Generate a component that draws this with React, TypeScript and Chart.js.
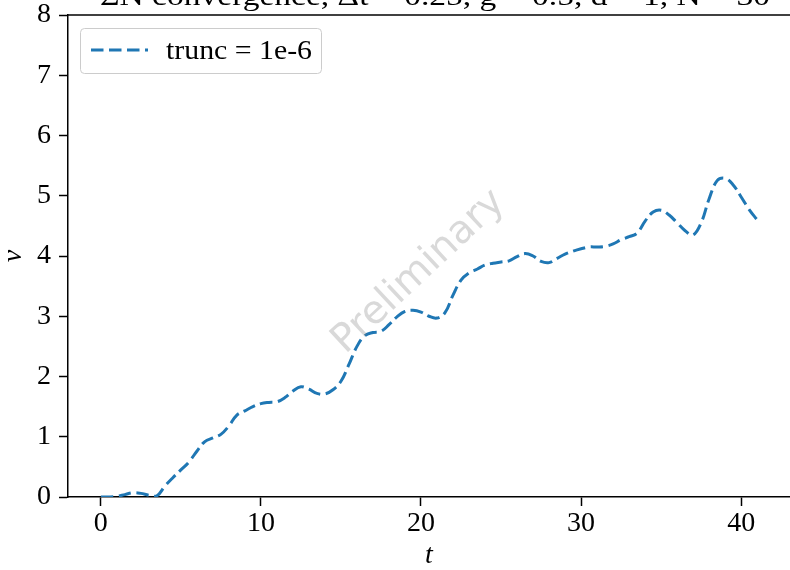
import React, { useEffect, useRef } from "react";
import { Chart, registerables } from "chart.js";
Chart.register(...registerables);

const tValues = [
  0, 0.5, 1, 1.5, 2, 2.5, 3, 3.5, 4, 4.5, 5, 5.5, 6, 6.5, 7, 7.5, 8, 8.5, 9, 9.5,
  10, 10.5, 11, 11.5, 12, 12.5, 13, 13.5, 14, 14.5, 15, 15.5, 16, 16.5, 17, 17.5,
  18, 18.5, 19, 19.5, 20, 20.5, 21, 21.5, 22, 22.5, 23, 23.5, 24, 24.5, 25, 25.5,
  26, 26.5, 27, 27.5, 28, 28.5, 29, 29.5, 30, 30.5, 31, 31.5, 32, 32.5, 33, 33.5,
  34, 34.5, 35, 35.5, 36, 36.5, 37, 37.5, 38, 38.5, 39, 39.5, 40, 40.5, 41,
];
const nuValues = [
  0, 0, 0.01, 0.04, 0.07, 0.06, 0.03, 0.02, 0.18, 0.32, 0.45, 0.58, 0.76, 0.92, 0.98, 1.04,
  1.18, 1.36, 1.43, 1.5, 1.55, 1.57, 1.58, 1.65, 1.76, 1.83, 1.79, 1.72, 1.71, 1.78, 1.92,
  2.2, 2.5, 2.68, 2.73, 2.75, 2.86, 2.99, 3.08, 3.1, 3.07, 3.0, 2.97, 3.06, 3.35, 3.6, 3.72,
  3.78, 3.85, 3.88, 3.9, 3.92, 3.99, 4.04, 4.0, 3.91, 3.89, 3.96, 4.03, 4.08, 4.12, 4.15,
  4.15, 4.16, 4.2, 4.27, 4.32, 4.38, 4.58, 4.73, 4.76, 4.68, 4.55, 4.42, 4.35, 4.55, 4.95,
  5.25, 5.29, 5.18, 4.98, 4.77, 4.6,
];
const xTicks = [0, 10, 20, 30, 40];
const yTicks = [0, 1, 2, 3, 4, 5, 6, 7, 8];
const seriesLabel = "trunc = 1e-6";
const titleText = "ΣN convergence, Δt = 0.25, g = 0.5, d = 1, N = 30";
const watermarkText = "Preliminary";
const xLabel = "t";
const yLabel = "ν";

const SERIF = "'Liberation Serif', 'DejaVu Serif', serif";
const LINE_COLOR = "#1f77b4";
const DASH = [12.5, 5.5];

function fitText(ctx: CanvasRenderingContext2D, text: string, x: number, y: number, width: number) {
  const w = ctx.measureText(text).width;
  ctx.save();
  ctx.translate(x, y);
  ctx.scale(width / w, 1);
  ctx.textAlign = "left";
  ctx.fillText(text, 0, 0);
  ctx.restore();
}

const overlayPlugin = {
  id: "overlay",
  afterDraw(chart: any) {
    const ctx = chart.ctx as CanvasRenderingContext2D;
    const a = chart.chartArea;
    ctx.save();
    // top spine
    ctx.strokeStyle = "#000";
    ctx.lineWidth = 1.5;
    ctx.beginPath();
    ctx.moveTo(a.left, a.top);
    ctx.lineTo(a.right + 2, a.top);
    ctx.stroke();

    // title (partially cut off at top)
    ctx.fillStyle = "#000";
    ctx.font = `28px ${SERIF}`;
    ctx.textBaseline = "alphabetic";
    fitText(ctx, titleText, 100, 5, 670);

    // watermark
    ctx.save();
    ctx.translate(419, 272);
    ctx.rotate((-43 * Math.PI) / 180);
    ctx.font = `39px 'DejaVu Sans', sans-serif`;
    ctx.fillStyle = "rgba(128,128,128,0.3)";
    ctx.textAlign = "center";
    ctx.textBaseline = "middle";
    ctx.fillText(watermarkText, 0, 0);
    ctx.restore();

    // legend
    const bx = 80.5, by = 28.5, bw = 241, bh = 45, r = 4;
    ctx.beginPath();
    ctx.moveTo(bx + r, by);
    ctx.lineTo(bx + bw - r, by);
    ctx.arcTo(bx + bw, by, bx + bw, by + r, r);
    ctx.lineTo(bx + bw, by + bh - r);
    ctx.arcTo(bx + bw, by + bh, bx + bw - r, by + bh, r);
    ctx.lineTo(bx + r, by + bh);
    ctx.arcTo(bx, by + bh, bx, by + bh - r, r);
    ctx.lineTo(bx, by + r);
    ctx.arcTo(bx, by, bx + r, by, r);
    ctx.closePath();
    ctx.fillStyle = "rgba(255,255,255,0.8)";
    ctx.fill();
    ctx.strokeStyle = "#cccccc";
    ctx.lineWidth = 1;
    ctx.stroke();

    ctx.strokeStyle = LINE_COLOR;
    ctx.lineWidth = 3;
    ctx.setLineDash(DASH);
    ctx.beginPath();
    ctx.moveTo(91, 50);
    ctx.lineTo(148, 50);
    ctx.stroke();
    ctx.setLineDash([]);

    ctx.fillStyle = "#000";
    ctx.font = `28px ${SERIF}`;
    ctx.textBaseline = "alphabetic";
    fitText(ctx, seriesLabel, 166, 59, 146);
    ctx.restore();
  },
};

export default function App() {
  const ref = useRef<HTMLCanvasElement>(null);
  useEffect(() => {
    const canvas = ref.current!;
    const points = tValues.map((t, i) => ({ x: t, y: nuValues[i] }));
    const chart = new Chart(canvas, {
      type: "line",
      data: {
        datasets: [
          {
            label: seriesLabel,
            data: points,
            borderColor: LINE_COLOR,
            borderWidth: 3,
            borderDash: DASH,
            pointRadius: 0,
            fill: false,
            tension: 0.4,
          },
        ],
      },
      options: {
        animation: false,
        responsive: false,
        maintainAspectRatio: false,
        devicePixelRatio: 1,
        layout: { padding: { top: 15, left: 0, right: 0, bottom: 0 } },
        plugins: {
          legend: { display: false },
          title: { display: false },
          tooltip: { enabled: false },
        },
        scales: {
          x: {
            type: "linear",
            min: -2.05,
            max: 43.05,
            afterBuildTicks: (s: any) => {
              s.ticks = xTicks.map((v) => ({ value: v }));
            },
            afterFit: (s: any) => {
              s.height = 73;
            },
            ticks: {
              color: "#000",
              font: { family: SERIF, size: 28, lineHeight: 1 },
              padding: 4,
              maxRotation: 0,
              autoSkip: false,
            },
            grid: {
              display: true,
              drawOnChartArea: false,
              drawTicks: true,
              tickLength: 9,
              tickWidth: 1.5,
              tickColor: "#000",
            },
            border: { display: true, color: "#000", width: 1.5 },
            title: {
              display: true,
              text: xLabel,
              color: "#000",
              font: { family: SERIF, size: 28, style: "italic", lineHeight: 1 },
              padding: { top: 5, bottom: 0 },
            },
          },
          y: {
            type: "linear",
            min: 0,
            max: 8,
            afterBuildTicks: (s: any) => {
              s.ticks = yTicks.map((v) => ({ value: v }));
            },
            afterFit: (s: any) => {
              s.width = 68;
            },
            ticks: {
              color: "#000",
              font: { family: SERIF, size: 28, lineHeight: 0.5 },
              padding: 8,
              autoSkip: false,
            },
            grid: {
              display: true,
              drawOnChartArea: false,
              drawTicks: true,
              tickLength: 9,
              tickWidth: 1.5,
              tickColor: "#000",
            },
            border: { display: true, color: "#000", width: 1.5 },
            title: {
              display: true,
              text: yLabel,
              color: "#000",
              font: { family: SERIF, size: 28, style: "italic", lineHeight: 1 },
              padding: { top: 0, bottom: 0 },
            },
          },
        },
      },
      plugins: [overlayPlugin],
    });
    return () => chart.destroy();
  }, []);
  return (
    <div style={{ position: "fixed", left: 0, top: 0, width: 790, height: 570, background: "#fff" }}>
      <canvas ref={ref} width={790} height={570} style={{ width: 790, height: 570, display: "block" }} />
    </div>
  );
}
